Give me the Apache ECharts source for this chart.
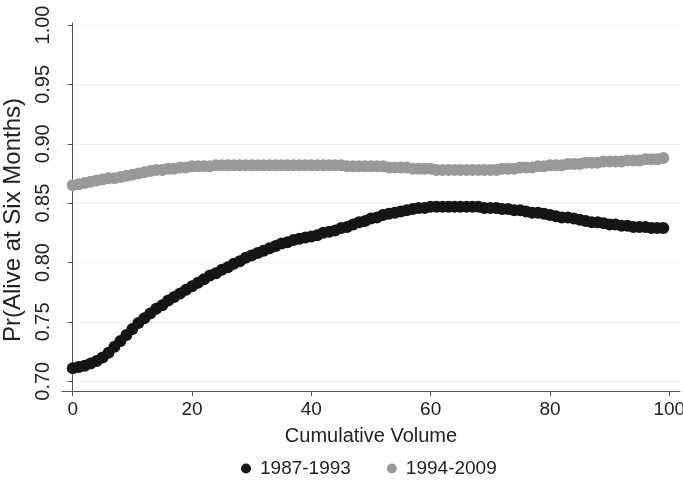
<!DOCTYPE html>
<html>
<head>
<meta charset="utf-8">
<script src="https://cdn.jsdelivr.net/npm/echarts@6/dist/echarts.min.js"></script>
<style>
  html, body { margin: 0; padding: 0; background: #fff; }
  #main { width: 683px; height: 483px; }
</style>
</head>
<body>
<div id="main"></div>
<script>
// cumulative volume (x), one point per unit
const volume = [];
for (let i = 0; i <= 99; i++) volume.push(i);

const early = [ // 1987-1993
  0.711, 0.712, 0.713, 0.715, 0.717, 0.720, 0.724, 0.729, 0.734, 0.739,
  0.744, 0.749, 0.753, 0.757, 0.761, 0.764, 0.768, 0.771, 0.774, 0.777,
  0.780, 0.783, 0.786, 0.789, 0.791, 0.794, 0.796, 0.799, 0.801, 0.804,
  0.806, 0.808, 0.810, 0.812, 0.814, 0.816, 0.817, 0.819, 0.820, 0.821,
  0.822, 0.823, 0.825, 0.826, 0.827, 0.829, 0.830, 0.832, 0.834, 0.835,
  0.837, 0.838, 0.840, 0.841, 0.842, 0.843, 0.844, 0.845, 0.846, 0.846,
  0.847, 0.847, 0.847, 0.847, 0.847, 0.847, 0.847, 0.847, 0.847, 0.846,
  0.846, 0.846, 0.845, 0.845, 0.844, 0.844, 0.843, 0.842, 0.842, 0.841,
  0.840, 0.839, 0.838, 0.838, 0.837, 0.836, 0.835, 0.834, 0.834, 0.833,
  0.832, 0.832, 0.831, 0.831, 0.830, 0.830, 0.830, 0.829, 0.829, 0.829
];

const late = [ // 1994-2009
  0.865, 0.866, 0.867, 0.868, 0.869, 0.870, 0.871, 0.871, 0.872, 0.873,
  0.874, 0.875, 0.876, 0.877, 0.878, 0.878, 0.879, 0.879, 0.880, 0.880,
  0.881, 0.881, 0.881, 0.881, 0.882, 0.882, 0.882, 0.882, 0.882, 0.882,
  0.882, 0.882, 0.882, 0.882, 0.882, 0.882, 0.882, 0.882, 0.882, 0.882,
  0.882, 0.882, 0.882, 0.882, 0.882, 0.882, 0.881, 0.881, 0.881, 0.881,
  0.881, 0.881, 0.881, 0.880, 0.880, 0.880, 0.880, 0.879, 0.879, 0.879,
  0.879, 0.878, 0.878, 0.878, 0.878, 0.878, 0.878, 0.878, 0.878, 0.878,
  0.878, 0.878, 0.879, 0.879, 0.879, 0.880, 0.880, 0.880, 0.881, 0.881,
  0.882, 0.882, 0.882, 0.883, 0.883, 0.883, 0.884, 0.884, 0.884, 0.885,
  0.885, 0.885, 0.885, 0.886, 0.886, 0.886, 0.887, 0.887, 0.887, 0.888
];

const xTicks = [0, 20, 40, 60, 80, 100];
const yTicks = [0.70, 0.75, 0.80, 0.85, 0.90, 0.95, 1.00];
const seriesNames = ['1987-1993', '1994-2009'];

const font = '"Liberation Sans", Arial, Helvetica, sans-serif';
const axisColor = '#555555';

const chart = echarts.init(document.getElementById('main'), null, { renderer: 'canvas' });

function pairs(ys) {
  return ys.map(function (v, i) { return [volume[i], v]; });
}

var option = {
  backgroundColor: '#ffffff',
  animation: false,
  textStyle: { fontFamily: font },
  grid: { left: 62, right: 3, top: 23, bottom: 92, outerBoundsMode: 'none' },
  xAxis: {
    type: 'value',
    min: -1.8,
    max: 101.8,
    name: 'Cumulative Volume',
    nameLocation: 'middle',
    nameGap: 35,
    nameTextStyle: { fontSize: 20, color: '#222', fontFamily: font },
    axisLine: { show: true, lineStyle: { color: axisColor, width: 1 } },
    axisTick: { show: true, length: 5, customValues: xTicks, lineStyle: { color: axisColor } },
    axisLabel: { customValues: xTicks, fontSize: 19, color: '#222', margin: 9, fontFamily: font },
    splitLine: { show: false }
  },
  yAxis: {
    type: 'value',
    min: 0.6918,
    max: 1.0017,
    name: 'Pr(Alive at Six Months)',
    nameLocation: 'middle',
    nameGap: 33,
    nameTextStyle: { fontSize: 24, color: '#222', fontFamily: font, padding: [0, 26, 0, 0] },
    axisLine: { show: true, lineStyle: { color: axisColor, width: 1 } },
    axisTick: { show: true, length: 5, customValues: yTicks, lineStyle: { color: axisColor } },
    axisLabel: {
      customValues: yTicks,
      rotate: 90,
      fontSize: 20,
      color: '#222',
      margin: 9,
      fontFamily: font,
      formatter: function (v) { return v.toFixed(2); }
    },
    splitLine: { show: true, lineStyle: { color: '#eeeeee', width: 1 } }
  },
  legend: {
    bottom: 0,
    left: 236,
    icon: 'circle',
    itemWidth: 10,
    itemHeight: 10,
    itemGap: 36,
    textStyle: { fontSize: 19, color: '#222', fontFamily: font, padding: [0, 0, 0, 4] },
    data: seriesNames
  },
  series: [
    {
      name: seriesNames[0],
      type: 'scatter',
      symbol: 'circle',
      symbolSize: 12,
      itemStyle: { color: '#151515', opacity: 1 },
      data: pairs(early)
    },
    {
      name: seriesNames[1],
      type: 'scatter',
      symbol: 'circle',
      symbolSize: 12,
      itemStyle: { color: '#999999', opacity: 1 },
      data: pairs(late)
    }
  ]
};

chart.setOption(option);
</script>
</body>
</html>
